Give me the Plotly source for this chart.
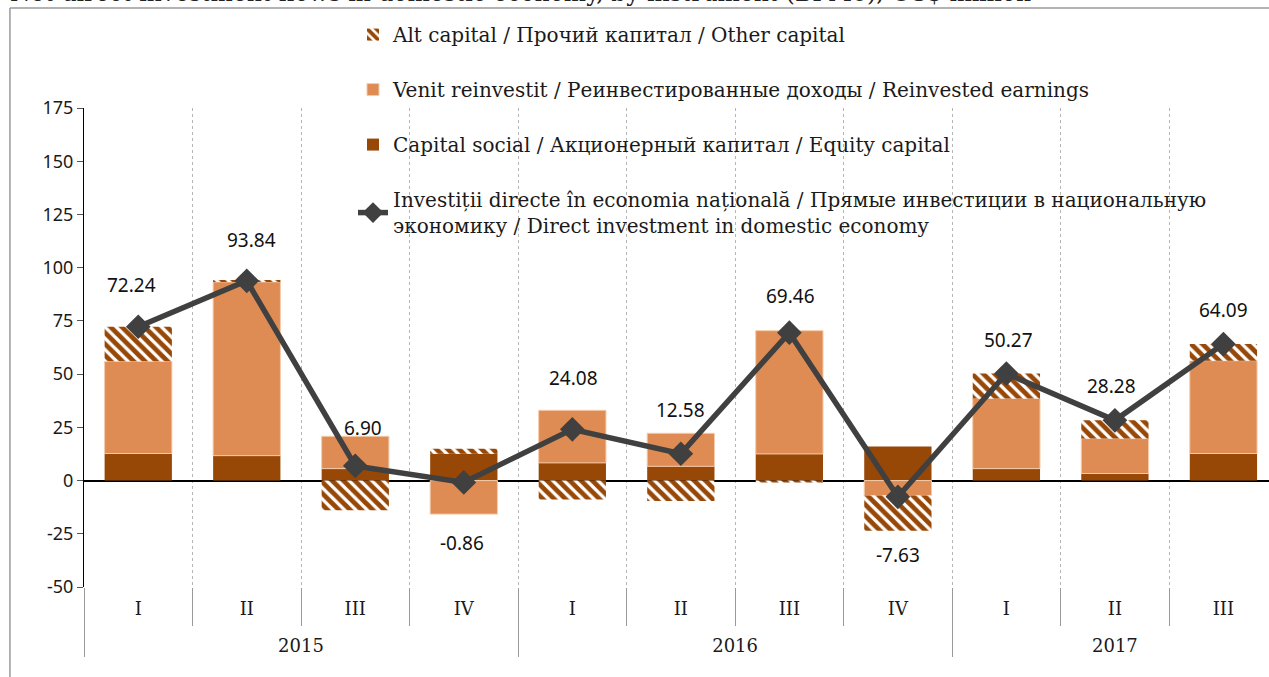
import plotly.graph_objects as go

# ---- data (US$ million) ----
quarters = ["I", "II", "III", "IV", "I", "II", "III", "IV", "I", "II", "III"]
years = ["2015"] * 4 + ["2016"] * 4 + ["2017"] * 3
equity = [12.7, 11.7, 5.6, 12.6, 8.3, 6.7, 12.5, 16.0, 5.6, 3.3, 12.7]
reinvested = [43.3, 81.6, 15.2, -15.76, 24.7, 15.5, 57.9, -7.0, 33.0, 16.4, 43.6]
other = [16.24, 0.54, -13.9, 2.3, -8.92, -9.62, -0.94, -16.63, 11.67, 8.58, 7.79]
total = [72.24, 93.84, 6.90, -0.86, 24.08, 12.58, 69.46, -7.63, 50.27, 28.28, 64.09]
y_tick_values = [-50, -25, 0, 25, 50, 75, 100, 125, 150, 175]
y_tick_labels = ["-50", "-25", "0", "25", "50", "75", "100", "125", "150", "175"]

name_other = "Alt capital / Прочий капитал / Other capital"
name_reinv = "Venit reinvestit / Реинвестированные доходы / Reinvested earnings"
name_equity = "Capital social / Акционерный капитал / Equity capital"
name_total = ("Investiții directe în economia națională / Прямые инвестиции в национальную"
              "<br>экономику / Direct investment in domestic economy")
title_text = "Net direct investment flows in domestic economy, by instrument (BPM6), US$ million"

# ---- style ----
C_EQ = "#974706"
C_RE = "#DE8C53"
C_LINE = "#404040"
SERIF = "DejaVu Serif"
SANS = "Noto Sans"
label_dx = [-7, 5, 8, -2, 1, 0, 1, 0, 2, -3, 0]
label_dy = [42, 41, 38, -61, 51, 44, 37, -58, 34, 34, 34]

x = [years, quarters]

fig = go.Figure()
fig.add_trace(go.Bar(
    x=x, y=equity, name=name_equity, legendgroup="eq", legendrank=3,
    marker=dict(color=C_EQ, line=dict(width=0)),
))
fig.add_trace(go.Bar(
    x=x, y=reinvested, name=name_reinv, legendgroup="re", legendrank=2,
    marker=dict(color=C_RE, line=dict(color="#F4CBAA", width=1)),
))
fig.add_trace(go.Bar(
    x=x, y=other, name=name_other, legendgroup="ot", legendrank=1,
    marker=dict(color="white", line=dict(width=0),
                pattern=dict(shape="\\", fgcolor=C_EQ, bgcolor="white",
                             fgopacity=1, fillmode="replace",
                             size=8, solidity=0.6)),
))
fig.add_trace(go.Scatter(
    x=x, y=total, name=name_total, legendgroup="tot", legendrank=4,
    mode="lines+markers",
    line=dict(color=C_LINE, width=5.5),
    marker=dict(symbol="diamond", size=19, color=C_LINE),
))

for i, v in enumerate(total):
    fig.add_annotation(
        x=i, y=v, xref="x", yref="y", text=f"{v:.2f}", showarrow=False,
        xshift=label_dx[i], yshift=label_dy[i],
        font=dict(family=SANS, size=19, color="#111111"),
    )

# cut-off title at the very top
fig.add_annotation(
    xref="paper", yref="paper", x=-0.064, y=1.207, xanchor="left", yanchor="bottom",
    text=title_text, showarrow=False,
    font=dict(family=SERIF, size=23.5, color="#222222"),
)

# outer frame
frame = dict(color="#9a9a9a", width=1.5)
fig.add_shape(type="line", xref="paper", yref="paper", x0=-0.0625, x1=-0.0625,
              y0=-0.25, y1=1.2086, line=frame)
fig.add_shape(type="line", xref="paper", yref="paper", x0=-0.0625, x1=1.05,
              y0=1.2086, y1=1.2086, line=frame)

fig.update_layout(
    width=1269, height=677,
    margin=dict(l=84, r=0, t=108, b=90),
    paper_bgcolor="white", plot_bgcolor="white",
    barmode="relative", bargap=0.38,
    showlegend=True,
    legend=dict(
        x=0.227, y=1.194, xanchor="left", yanchor="top",
        traceorder="grouped", tracegroupgap=26,
        bgcolor="rgba(0,0,0,0)", borderwidth=0,
        font=dict(family=SERIF, size=20, color="#1a1a1a"),
    ),
    xaxis=dict(
        type="multicategory", range=[-0.5, 10.42], autorange=False,
        showgrid=True, gridcolor="#b5b5b5", griddash="dot", gridwidth=1,
        tickson="boundaries", ticks="outside", ticklen=38, tickcolor="#9a9a9a",
        showdividers=True, dividercolor="#9a9a9a", dividerwidth=1,
        showline=False, zeroline=False, ticklabelstandoff=9,
        ticksuffix="<br> ",
        tickfont=dict(family=SERIF, size=18, color="#1a1a1a"),
    ),
    yaxis=dict(
        range=[-50, 175], autorange=False,
        tickmode="array", tickvals=y_tick_values, ticktext=y_tick_labels,
        showgrid=False, showline=True, linecolor="black", linewidth=1,
        ticks="outside", ticklen=6, tickcolor="#555555",
        zeroline=True, zerolinecolor="black", zerolinewidth=1.5,
        tickfont=dict(family=SANS, size=18, color="#1a1a1a"),
    ),
)

fig.write_html("out.html", config={"displayModeBar": False},
               post_script="document.body.style.margin='0px';")
